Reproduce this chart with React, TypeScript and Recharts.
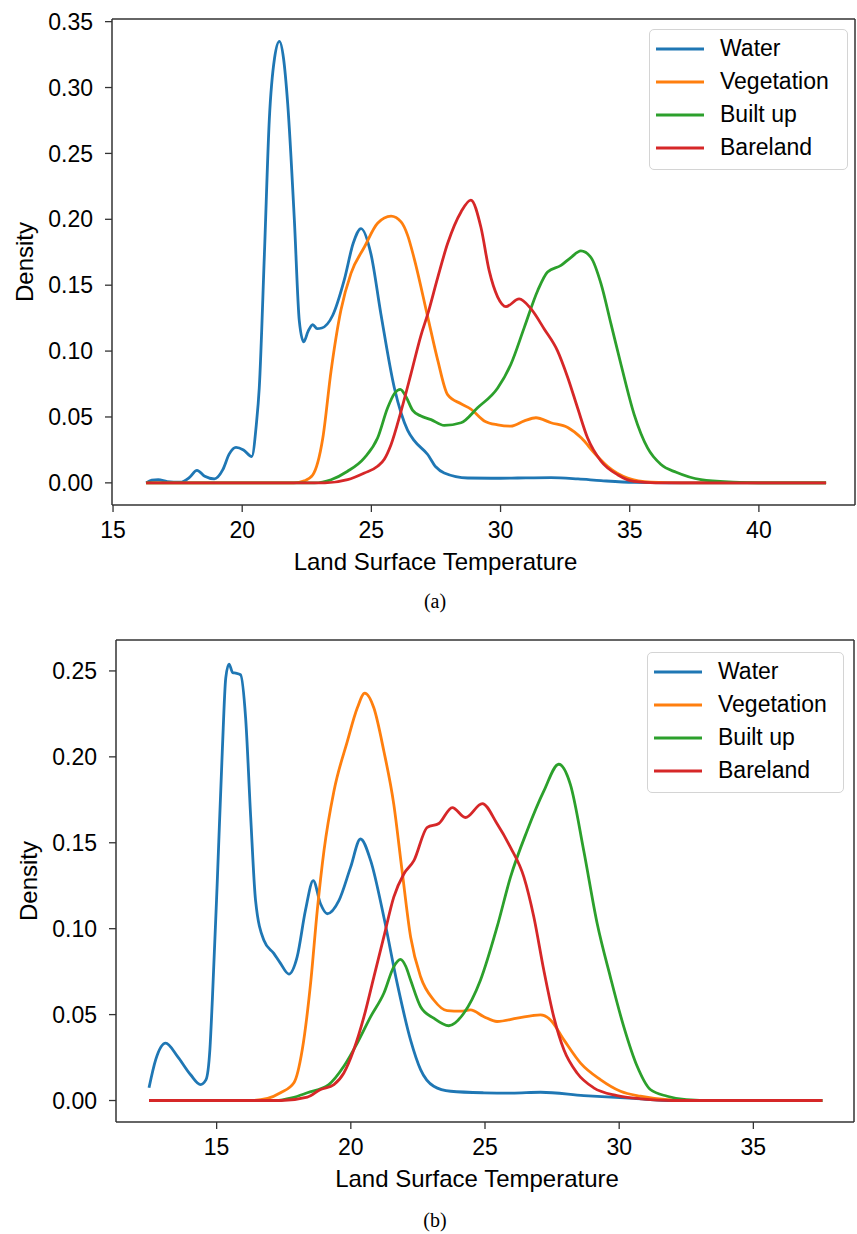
import React from 'react'
import { LineChart, Line, XAxis, YAxis, Legend, Label, ReferenceLine } from 'recharts'

// [temperature, density]
const waterA: [number, number][] = [
  [16.28, 0], [16.5, 0.002], [16.75, 0.0025], [17.1, 0.001], [17.6, 0.0005], [17.95, 0.004],
  [18.25, 0.0095], [18.55, 0.005], [18.92, 0.003], [19.25, 0.01], [19.5, 0.022], [19.76, 0.027],
  [20.05, 0.025], [20.37, 0.02], [20.55, 0.045], [20.66, 0.072], [20.86, 0.174], [21.05, 0.276],
  [21.25, 0.322], [21.44, 0.335], [21.6, 0.322], [21.76, 0.288], [22.02, 0.199], [22.21, 0.123],
  [22.38, 0.107], [22.55, 0.115], [22.73, 0.12], [22.9, 0.117], [23.08, 0.1175], [23.5, 0.127],
  [23.95, 0.154], [24.3, 0.182], [24.6, 0.193], [24.98, 0.174], [25.37, 0.128], [25.89, 0.072],
  [26.15, 0.053], [26.4, 0.04], [26.66, 0.032], [27.18, 0.0215], [27.5, 0.012], [27.82, 0.0075],
  [28.73, 0.0037], [30.0, 0.0035], [30.66, 0.0037], [31.95, 0.004], [33.0, 0.003], [33.89, 0.0017],
  [35.17, 0.0003], [36.5, 0], [42.6, 0],
]
const vegetationA: [number, number][] = [
  [16.28, 0], [22.0, 0], [22.4, 0.0015], [22.73, 0.006], [23.12, 0.034], [23.44, 0.085], [23.82, 0.131],
  [24.21, 0.159], [24.73, 0.179], [25.24, 0.197], [25.76, 0.2024], [26.15, 0.198], [26.4, 0.188],
  [26.66, 0.17], [27.18, 0.126], [27.57, 0.093], [27.95, 0.067], [28.47, 0.06], [28.85, 0.056],
  [29.37, 0.047], [29.89, 0.044], [30.4, 0.043], [30.92, 0.047], [31.37, 0.0494], [31.95, 0.0456],
  [32.6, 0.042], [33.13, 0.034], [33.63, 0.0227], [34.14, 0.0126], [34.92, 0.0037], [35.82, 0.0006],
  [37, 0], [42.6, 0],
]
const builtUpA: [number, number][] = [
  [16.28, 0], [22.8, 0], [23.44, 0.0024], [24.08, 0.0088], [24.73, 0.019], [25.24, 0.034],
  [25.63, 0.057], [25.9, 0.068], [26.12, 0.071], [26.35, 0.065], [26.6, 0.055], [26.92, 0.0507],
  [27.31, 0.048], [27.82, 0.0436], [28.47, 0.0456], [29.11, 0.057], [29.89, 0.072], [30.4, 0.09],
  [30.92, 0.118], [31.44, 0.146], [31.82, 0.16], [32.34, 0.165], [32.72, 0.171], [33.11, 0.176],
  [33.5, 0.171], [33.89, 0.151], [34.27, 0.121], [34.66, 0.09], [35.17, 0.052], [35.69, 0.0265],
  [36.21, 0.0139], [36.8, 0.008], [37.76, 0.0024], [39.0, 0.0005], [40, 0], [42.6, 0],
]
const barelandA: [number, number][] = [
  [16.28, 0], [23.2, 0], [24.08, 0.0024], [24.73, 0.0075], [25.24, 0.0126], [25.5, 0.018],
  [25.76, 0.029], [26.15, 0.0545], [26.53, 0.0825], [26.92, 0.112], [27.18, 0.128], [27.57, 0.156],
  [27.95, 0.1816], [28.47, 0.2056], [28.85, 0.2146], [29.24, 0.194], [29.56, 0.161], [29.89, 0.141],
  [30.21, 0.1338], [30.72, 0.1396], [31.18, 0.132], [31.69, 0.1168], [32.21, 0.1], [32.6, 0.08],
  [32.98, 0.057], [33.37, 0.034], [33.89, 0.0164], [34.53, 0.0062], [35.17, 0.0011], [36, 0], [42.6, 0],
]

const waterB: [number, number][] = [
  [12.48, 0.0074], [12.73, 0.0238], [13.1, 0.0334], [13.54, 0.0257], [14.03, 0.015], [14.4, 0.0093],
  [14.6, 0.012], [14.75, 0.03], [14.84, 0.0585], [15.02, 0.126], [15.21, 0.203], [15.34, 0.246],
  [15.46, 0.254], [15.6, 0.249], [15.71, 0.2487], [15.89, 0.2478], [16.08, 0.2227], [16.27, 0.1647],
  [16.45, 0.1165], [16.76, 0.0933], [17.13, 0.0856], [17.38, 0.0798], [17.69, 0.0736], [18.0, 0.0836],
  [18.31, 0.1107], [18.6, 0.128], [18.87, 0.1145], [19.12, 0.1087], [19.56, 0.1165], [19.99, 0.1357],
  [20.36, 0.1522], [20.74, 0.1396], [21.23, 0.1068], [21.73, 0.068], [22.23, 0.035], [22.6, 0.018],
  [23.09, 0.0083], [23.72, 0.0054], [24.96, 0.0045], [26.0, 0.0043], [27.07, 0.0048], [28.68, 0.0029],
  [30.54, 0.0012], [32, 0], [37.57, 0],
]
const vegetationB: [number, number][] = [
  [12.48, 0], [16.3, 0], [16.9, 0.0012], [17.38, 0.0045], [17.88, 0.0103], [18.19, 0.0295], [18.5, 0.068],
  [18.75, 0.1107], [19.0, 0.1454], [19.37, 0.18], [19.87, 0.209], [20.24, 0.2284], [20.52, 0.2371],
  [20.86, 0.2284], [21.23, 0.2034], [21.6, 0.1725], [21.9, 0.135], [22.23, 0.095], [22.6, 0.072],
  [23.09, 0.0585], [23.59, 0.0523], [24.1, 0.052], [24.46, 0.0527], [24.96, 0.0488], [25.45, 0.046],
  [26.2, 0.0479], [27.07, 0.0498], [27.44, 0.0469], [27.94, 0.0353], [28.56, 0.0218], [29.3, 0.0122],
  [30.05, 0.0054], [30.79, 0.0025], [31.79, 0.0005], [33, 0], [37.57, 0],
]
const builtUpB: [number, number][] = [
  [12.48, 0], [17.2, 0], [17.8, 0.0015], [18.38, 0.0045], [19.18, 0.0093], [19.74, 0.0199], [20.24, 0.0334],
  [20.74, 0.0488], [21.23, 0.0624], [21.6, 0.0778], [21.85, 0.0821], [22.05, 0.078], [22.23, 0.07],
  [22.6, 0.0546], [23.09, 0.0479], [23.65, 0.0435], [24.21, 0.0508], [24.83, 0.07], [25.45, 0.101],
  [25.95, 0.13], [26.57, 0.157], [27.19, 0.18], [27.75, 0.1957], [28.18, 0.184], [28.68, 0.1454],
  [29.18, 0.103], [29.67, 0.072], [30.17, 0.043], [30.67, 0.0199], [31.16, 0.0064], [31.79, 0.0025],
  [32.5, 0.0005], [33.5, 0], [37.57, 0],
]
const barelandB: [number, number][] = [
  [12.48, 0], [17.4, 0], [18.38, 0.002], [18.87, 0.0064], [19.37, 0.0093], [19.74, 0.016],
  [20.11, 0.0295], [20.49, 0.0488], [20.86, 0.072], [21.23, 0.0952], [21.6, 0.1184], [21.98, 0.132],
  [22.35, 0.1396], [22.85, 0.159], [23.28, 0.1612], [23.78, 0.1705], [24.27, 0.1647], [24.9, 0.1728],
  [25.45, 0.161], [25.95, 0.1473], [26.45, 0.13], [26.82, 0.1068], [27.19, 0.0759], [27.56, 0.0488],
  [27.94, 0.0295], [28.43, 0.016], [29.05, 0.0074], [29.92, 0.0029], [30.8, 0.001], [32, 0], [37.57, 0],
]

const SERIES_NAMES = ['Water', 'Vegetation', 'Built up', 'Bareland']
const COLORS = ['#1f77b4', '#ff7f0e', '#2ca02c', '#d62728']

const xTicksA = [15, 20, 25, 30, 35, 40]
const yTicksA = [0, 0.05, 0.1, 0.15, 0.2, 0.25, 0.3, 0.35]
const xTicksB = [15, 20, 25, 30, 35]
const yTicksB = [0, 0.05, 0.1, 0.15, 0.2, 0.25]

const FONT = '"Liberation Sans", Arial, sans-serif'
const AXIS = '#333'

const toPoints = (pairs: [number, number][]) => pairs.map(([t, d]) => ({ t, d }))

function LegendBox({ payload, width }: any) {
  // recharts sorts legend items by name; put them back in plotting order
  const items = [...(payload ?? [])].sort(
    (a: any, b: any) => SERIES_NAMES.indexOf(a.value) - SERIES_NAMES.indexOf(b.value)
  )
  return (
    <div style={{
      width, boxSizing: 'border-box', border: '1.5px solid #d4d4d4', borderRadius: 5,
      background: 'rgba(255,255,255,0.85)', padding: '2px 6px 5px 6px',
      fontFamily: FONT, fontSize: 23, color: '#000',
    }}>
      {items.map((p: any) => (
        <div key={p.value} style={{ display: 'flex', alignItems: 'center', height: 33 }}>
          <svg width={48} height={6}>
            <line x1={0} y1={3} x2={48} y2={3} stroke={p.color} strokeWidth={3.2} />
          </svg>
          <span style={{ marginLeft: 16 }}>{p.value}</span>
        </div>
      ))}
    </div>
  )
}

type PanelProps = {
  series: [number, number][][]
  xDomain: [number, number]
  yDomain: [number, number]
  xTicks: number[]
  yTicks: number[]
  height: number
  margin: { top: number; right: number; left: number; bottom: number }
  xLabelDx: number
  legendPos: { top: number; left: number; width: number }
}

function Panel({ series, xDomain, yDomain, xTicks, yTicks, height, margin, xLabelDx, legendPos }: PanelProps) {
  const tick = { fill: '#000', fontSize: 23, fontFamily: FONT }
  return (
    <LineChart width={857} height={height} margin={margin}>
      <XAxis
        dataKey="t" type="number" domain={xDomain} ticks={xTicks} allowDataOverflow
        tick={tick} tickSize={7} tickMargin={10} height={70}
        axisLine={{ stroke: AXIS, strokeWidth: 1.5 }} tickLine={{ stroke: AXIS, strokeWidth: 1.3 }}
      >
        <Label value="Land Surface Temperature" position="insideBottom" offset={5} dx={xLabelDx}
          style={{ fill: '#000', fontSize: 24, fontFamily: FONT }} />
      </XAxis>
      <YAxis
        type="number" domain={yDomain} ticks={yTicks} allowDataOverflow width={100}
        tickFormatter={(v: number) => v.toFixed(2)}
        tick={tick} tickSize={7} tickMargin={12}
        axisLine={{ stroke: AXIS, strokeWidth: 1.5 }} tickLine={{ stroke: AXIS, strokeWidth: 1.3 }}
      >
        <Label value="Density" angle={-90} position="center" dx={-38}
          style={{ fill: '#000', fontSize: 24, fontFamily: FONT }} />
      </YAxis>
      {/* top and right spines of the box */}
      <ReferenceLine y={yDomain[1]} stroke={AXIS} strokeWidth={1.5} ifOverflow="visible" />
      <ReferenceLine x={xDomain[1]} stroke={AXIS} strokeWidth={1.5} ifOverflow="visible" />
      <Legend
        layout="horizontal" verticalAlign="middle" align="center"
        wrapperStyle={{ top: legendPos.top, left: legendPos.left, width: legendPos.width }}
        content={(props: any) => <LegendBox payload={props.payload} width={legendPos.width} />}
      />
      {series.map((s, i) => (
        <Line
          key={SERIES_NAMES[i]} name={SERIES_NAMES[i]} data={toPoints(s)} dataKey="d"
          type="monotone" stroke={COLORS[i]} strokeWidth={2.8} dot={false} activeDot={false}
          isAnimationActive={false}
        />
      ))}
    </LineChart>
  )
}

const captionStyle: React.CSSProperties = {
  position: 'absolute', left: 385, width: 100, textAlign: 'center',
  fontFamily: '"Liberation Serif", "DejaVu Serif", serif', fontSize: 20, color: '#000',
}

export default function App() {
  return (
    <div style={{ position: 'absolute', left: 0, top: 0, width: 857, height: 1234, background: '#fff' }}>
      <div style={{ position: 'absolute', left: 0, top: 0 }}>
        <Panel
          series={[waterA, vegetationA, builtUpA, barelandA]}
          xDomain={[14.96, 43.72]} yDomain={[-0.0168, 0.352]}
          xTicks={xTicksA} yTicks={yTicksA}
          height={620} margin={{ top: 19, right: 2, left: 12, bottom: 45 }}
          xLabelDx={-48} legendPos={{ top: 29, left: 649, width: 199 }}
        />
      </div>
      <div style={{ ...captionStyle, top: 590 }}>(a)</div>
      <div style={{ position: 'absolute', left: 0, top: 620 }}>
        <Panel
          series={[waterB, vegetationB, builtUpB, barelandB]}
          xDomain={[11.25, 38.75]} yDomain={[-0.0125, 0.268]}
          xTicks={xTicksB} yTicks={yTicksB}
          height={614} margin={{ top: 20, right: 3, left: 16, bottom: 42 }}
          xLabelDx={-8} legendPos={{ top: 32, left: 647, width: 197 }}
        />
      </div>
      <div style={{ ...captionStyle, top: 1209 }}>(b)</div>
    </div>
  )
}
